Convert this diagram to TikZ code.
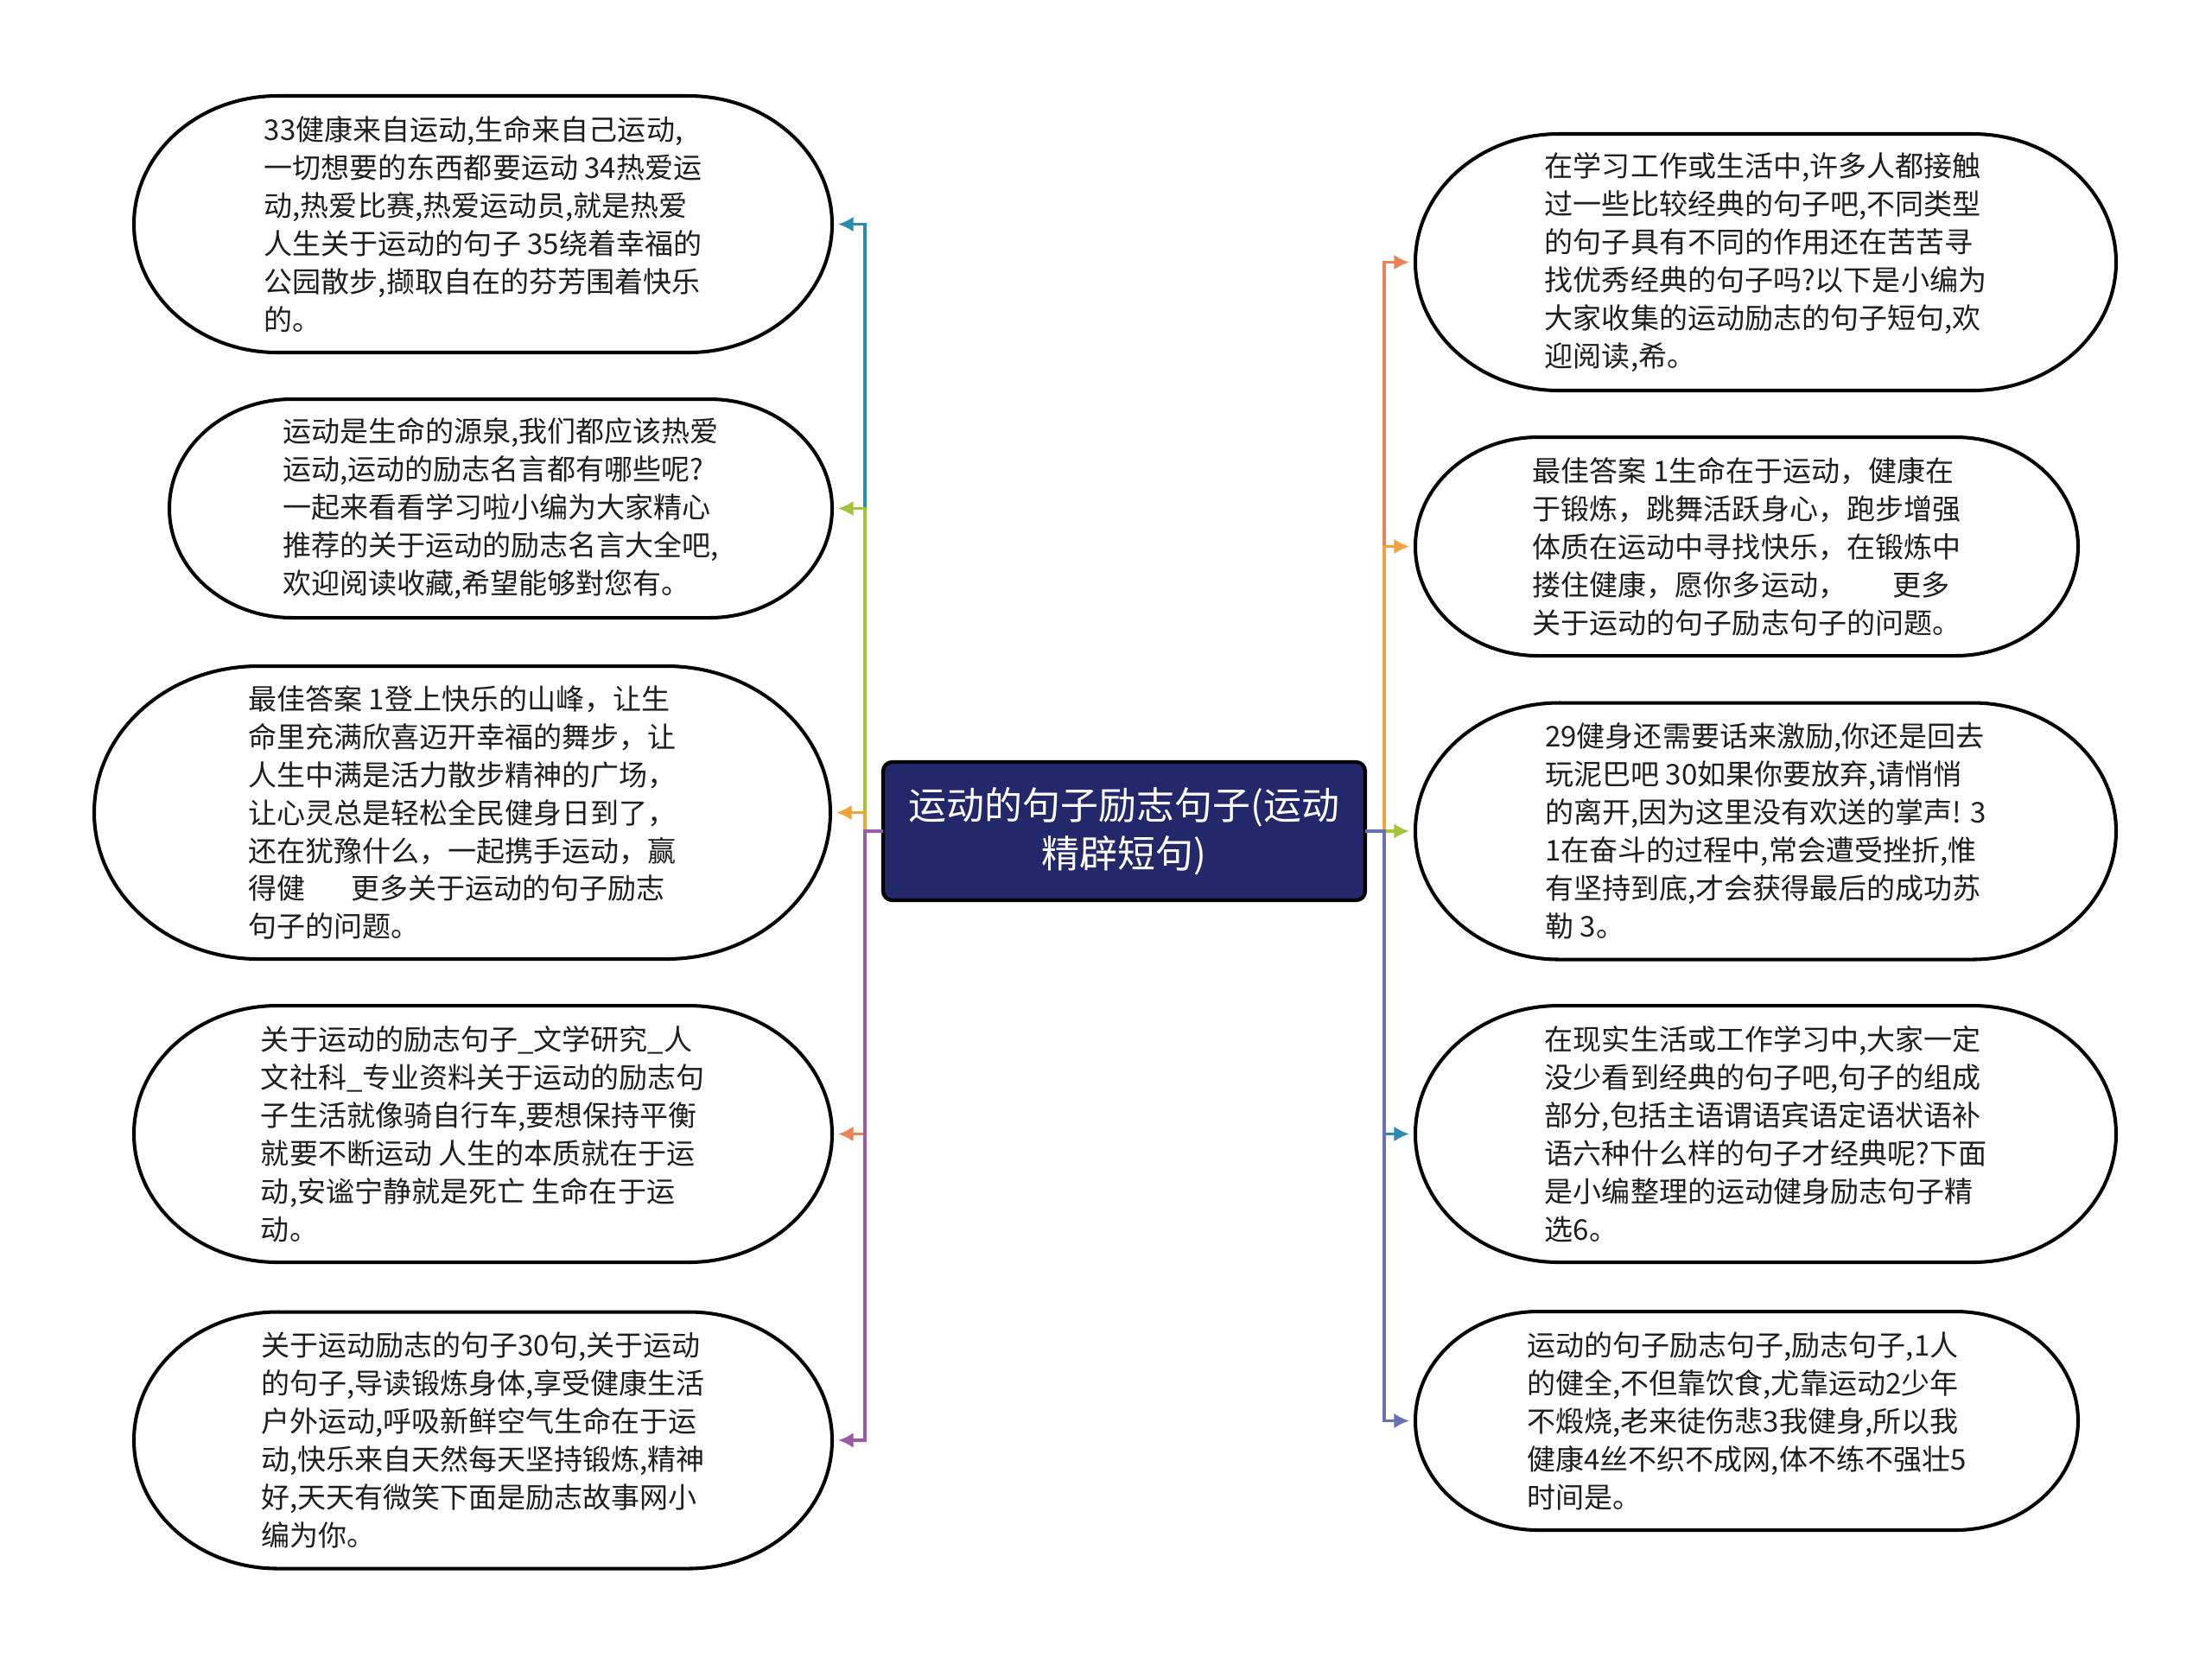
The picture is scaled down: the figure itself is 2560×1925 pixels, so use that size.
\documentclass[tikz,border=0pt]{standalone}
\usepackage{fontspec}
\setmainfont{Noto Sans CJK SC}
\usetikzlibrary{arrows.meta}
\definecolor{cTeal}{HTML}{2B8CB0}
\definecolor{cLime}{HTML}{A3C43A}
\definecolor{cOrange}{HTML}{F0A33A}
\definecolor{cCoral}{HTML}{EA8458}
\definecolor{cPurple}{HTML}{9A5BA6}
\definecolor{cIndigo}{HTML}{6A70B4}
\definecolor{cNavy}{HTML}{23286B}
\definecolor{txt}{HTML}{1E1E1E}
\newcommand\leaffont{\fontsize{9.4pt}{12.5pt}\selectfont}
\newcommand\rootfont{\fontsize{12.5pt}{15.9pt}\selectfont}
\newcommand\stadium[3]{%
  \draw[leafline] ([xshift=#2]#1.north west) -- ([xshift=-#2]#1.north east)
    arc[start angle=90,end angle=-90,x radius=#2,y radius=#3]
    -- ([xshift=#2]#1.south west)
    arc[start angle=270,end angle=90,x radius=#2,y radius=#3] -- cycle;}
\tikzset{
  leaf/.style={rectangle, draw=none, inner sep=0pt, outer sep=0pt, align=left, font=\leaffont, text=txt},
  leafline/.style={draw=black, line width=1.15pt},
  rootbox/.style={rectangle, rounded corners=3pt, fill=cNavy, draw=black, line width=1.2pt,
    minimum width=55.8mm, minimum height=16mm, inner sep=0pt, outer sep=0pt,
    text=white, font=\rootfont, align=center},
  conn/.style={line width=0.95pt, draw=#1, -{Latex[length=5pt,width=5pt]}, shorten >=2pt},
  big/.style={minimum width=80.8mm, minimum height=29.7mm},
  bigR/.style={minimum width=81.1mm, minimum height=29.7mm},
  mid/.style={minimum width=76.7mm, minimum height=25.3mm},
  tall/.style={minimum width=85.2mm, minimum height=33.9mm}
}
\begin{document}
\begin{tikzpicture}[x=0.1mm,y=-0.1mm]
\fill[white] (0,0) rectangle (2560,1925);
\useasboundingbox (0,0) rectangle (2560,1925);

\node[rootbox] (C) at (1301,962) {运动的句子励志句子(运动\\精辟短句)};

% left leaves
\node[leaf,big] (L1) at (559,259.5) {33健康来自运动,生命来自己运动,\\一切想要的东西都要运动 34热爱运\\动,热爱比赛,热爱运动员,就是热爱\\人生关于运动的句子 35绕着幸福的\\公园散步,撷取自在的芬芳围着快乐\\的。};
\stadium{L1}{16.6mm}{14.85mm}
\node[leaf,mid] (L2) at (579.5,588.5) {运动是生命的源泉,我们都应该热爱\\运动,运动的励志名言都有哪些呢?\\一起来看看学习啦小编为大家精心\\推荐的关于运动的励志名言大全吧,\\欢迎阅读收藏,希望能够對您有。};
\stadium{L2}{14.2mm}{12.65mm}
\node[leaf,tall] (L3) at (535,940.5) {最佳答案 1登上快乐的山峰，让生\\命里充满欣喜迈开幸福的舞步，让\\人生中满是活力散步精神的广场，\\让心灵总是轻松全民健身日到了，\\还在犹豫什么，一起携手运动，赢\\得健\hspace{1.6em}更多关于运动的句子励志\\句子的问题。};
\stadium{L3}{19mm}{16.95mm}
\node[leaf,big] (L4) at (559,1312.5) {关于运动的励志句子\_文学研究\_人\\文社科\_专业资料关于运动的励志句\\子生活就像骑自行车,要想保持平衡\\就要不断运动 人生的本质就在于运\\动,安谧宁静就是死亡 生命在于运\\动。};
\stadium{L4}{16.6mm}{14.85mm}
\node[leaf,big] (L5) at (559,1667) {关于运动励志的句子30句,关于运动\\的句子,导读锻炼身体,享受健康生活\\户外运动,呼吸新鲜空气生命在于运\\动,快乐来自天然每天坚持锻炼,精神\\好,天天有微笑下面是励志故事网小\\编为你。};
\stadium{L5}{16.6mm}{14.85mm}

% right leaves
\node[leaf,bigR] (R1) at (2043.5,303.5) {在学习工作或生活中,许多人都接触\\过一些比较经典的句子吧,不同类型\\的句子具有不同的作用还在苦苦寻\\找优秀经典的句子吗?以下是小编为\\大家收集的运动励志的句子短句,欢\\迎阅读,希。};
\stadium{R1}{16.6mm}{14.85mm}
\node[leaf,mid] (R2) at (2021.5,632.5) {最佳答案 1生命在于运动，健康在\\于锻炼，跳舞活跃身心，跑步增强\\体质在运动中寻找快乐，在锻炼中\\搂住健康，愿你多运动，\hspace{1.6em}更多\\关于运动的句子励志句子的问题。};
\stadium{R2}{14.2mm}{12.65mm}
\node[leaf,bigR] (R3) at (2043.5,962) {29健身还需要话来激励,你还是回去\\玩泥巴吧 30如果你要放弃,请悄悄\\的离开,因为这里没有欢送的掌声! 3\\1在奋斗的过程中,常会遭受挫折,惟\\有坚持到底,才会获得最后的成功苏\\勒 3。};
\stadium{R3}{16.6mm}{14.85mm}
\node[leaf,bigR] (R4) at (2043.5,1312.5) {在现实生活或工作学习中,大家一定\\没少看到经典的句子吧,句子的组成\\部分,包括主语谓语宾语定语状语补\\语六种什么样的句子才经典呢?下面\\是小编整理的运动健身励志句子精\\选6。};
\stadium{R4}{16.6mm}{14.85mm}
\node[leaf,mid] (R5) at (2021.5,1644.5) {运动的句子励志句子,励志句子,1人\\的健全,不但靠饮食,尤靠运动2少年\\不煅烧,老来徒伤悲3我健身,所以我\\健康4丝不织不成网,体不练不强壮5\\时间是。};
\stadium{R5}{14.2mm}{12.65mm}

% connectors left
\draw[conn=cTeal]   (C.west) -- ++(-2.1mm,0) |- (L1.east);
\draw[conn=cLime]   (C.west) -- ++(-2.1mm,0) |- (L2.east);
\draw[conn=cOrange] (C.west) -- ++(-2.1mm,0) |- (L3.east);
\draw[conn=cCoral]  (C.west) -- ++(-2.1mm,0) |- (L4.east);
\draw[conn=cPurple] (C.west) -- ++(-2.1mm,0) |- (L5.east);
% connectors right
\draw[conn=cCoral]  (C.east) -- ++(2.2mm,0) |- (R1.west);
\draw[conn=cOrange] (C.east) -- ++(2.2mm,0) |- (R2.west);
\draw[conn=cLime]   (C.east) -- ++(2.2mm,0) |- (R3.west);
\draw[conn=cTeal]   (C.east) -- ++(2.2mm,0) |- (R4.west);
\draw[conn=cIndigo] (C.east) -- ++(2.2mm,0) |- (R5.west);
\end{tikzpicture}
\end{document}
